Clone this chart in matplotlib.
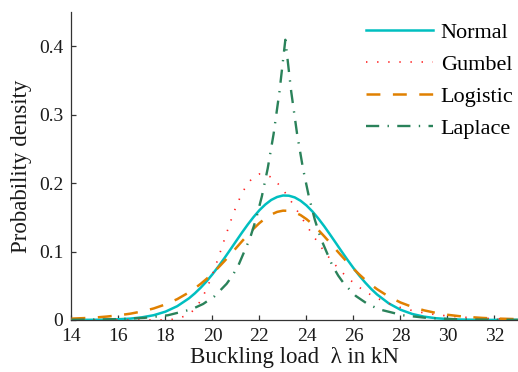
import matplotlib
matplotlib.use("Agg")
import matplotlib.pyplot as plt

plt.rcParams["font.family"] = ["Liberation Serif", "DejaVu Serif"]
plt.rcParams["lines.scale_dashes"] = False

# Load grid (kN) shared by the Normal, Gumbel and Logistic densities;
# finer steps through the central region where the curves bend most
load = [14.0, 14.5, 15.0, 15.5, 16.0, 16.5, 17.0, 17.5, 18.0, 18.5, 19.0,
        19.25, 19.5, 19.75, 20.0, 20.25, 20.5, 20.75, 21.0, 21.25, 21.5, 21.75,
        22.0, 22.25, 22.5, 22.75, 23.0, 23.25, 23.5, 23.75, 24.0, 24.25, 24.5,
        24.75, 25.0, 25.25, 25.5, 25.75, 26.0, 26.25, 26.5, 26.75,
        27.0, 27.5, 28.0, 28.5, 29.0, 29.5, 30.0, 30.5, 31.0, 31.5, 32.0, 32.5, 33.0]

normal_pdf = [0.0000, 0.0001, 0.0002, 0.0004, 0.0010, 0.0019, 0.0038, 0.0069, 0.0121, 0.0201, 0.0316,
              0.0389, 0.0472, 0.0565, 0.0669, 0.0781, 0.0900, 0.1024, 0.1150, 0.1275, 0.1395, 0.1506,
              0.1606, 0.1689, 0.1755, 0.1798, 0.1820, 0.1817, 0.1792, 0.1743, 0.1674, 0.1587, 0.1485,
              0.1372, 0.1250, 0.1125, 0.0999, 0.0876, 0.0758, 0.0647, 0.0546, 0.0454,
              0.0373, 0.0242, 0.0149, 0.0087, 0.0048, 0.0025, 0.0013, 0.0006, 0.0003, 0.0001, 0.0000, 0.0000, 0.0000]

gumbel_pdf = [0.0000, 0.0000, 0.0000, 0.0000, 0.0000, 0.0000, 0.0000, 0.0000, 0.0001, 0.0014, 0.0082,
              0.0161, 0.0283, 0.0452, 0.0664, 0.0909, 0.1168, 0.1423, 0.1656, 0.1850, 0.1997, 0.2092,
              0.2135, 0.2131, 0.2086, 0.2008, 0.1905, 0.1785, 0.1654, 0.1519, 0.1383, 0.1251, 0.1124,
              0.1005, 0.0895, 0.0794, 0.0701, 0.0618, 0.0543, 0.0476, 0.0417, 0.0364,
              0.0318, 0.0241, 0.0182, 0.0137, 0.0103, 0.0078, 0.0058, 0.0044, 0.0033, 0.0024, 0.0018, 0.0014, 0.0010]

logistic_pdf = [0.0019, 0.0026, 0.0035, 0.0049, 0.0067, 0.0091, 0.0124, 0.0168, 0.0227, 0.0304, 0.0403,
                0.0463, 0.0528, 0.0601, 0.0680, 0.0766, 0.0857, 0.0952, 0.1050, 0.1148, 0.1244, 0.1335,
                0.1417, 0.1487, 0.1542, 0.1580, 0.1598, 0.1596, 0.1574, 0.1533, 0.1474, 0.1402, 0.1317,
                0.1225, 0.1129, 0.1030, 0.0933, 0.0838, 0.0748, 0.0664, 0.0586, 0.0515,
                0.0450, 0.0341, 0.0255, 0.0190, 0.0140, 0.0103, 0.0075, 0.0055, 0.0040, 0.0029, 0.0021, 0.0016, 0.0011]

# Laplace density has a sharp cusp, so it gets its own grid centred on the peak
laplace_load = [14.0, 15.1, 16.1, 17.1, 18.1, 19.1, 19.6, 20.1, 20.6, 20.85, 21.1, 21.6, 21.85,
                22.1, 22.35, 22.6, 22.85, 23.1, 23.35, 23.6, 23.85, 24.1, 24.35, 24.6,
                25.1, 25.35, 25.6, 26.1, 26.6, 27.1, 28.1, 29.1, 30.1, 31.1, 32.1, 33.0]
laplace_pdf = [0.0002, 0.0006, 0.0013, 0.0030, 0.0068, 0.0154, 0.0233, 0.0350, 0.0528, 0.0648, 0.0796, 0.1199, 0.1471,
               0.1806, 0.2216, 0.2720, 0.3339, 0.4098, 0.3339, 0.2720, 0.2216, 0.1806, 0.1471, 0.1199,
               0.0796, 0.0648, 0.0528, 0.0350, 0.0233, 0.0154, 0.0068, 0.0030, 0.0013, 0.0006, 0.0003, 0.0001]

labels = ["Normal", "Gumbel", "Logistic", "Laplace"]
x_ticks = [14, 16, 18, 20, 22, 24, 26, 28, 30, 32]
y_ticks = [0, 0.1, 0.2, 0.3, 0.4]
y_tick_labels = ["0", "0.1", "0.2", "0.3", "0.4"]

fig = plt.figure(figsize=(5.18, 3.72), dpi=100)
ax = fig.add_axes([0.138, 0.140, 0.862, 0.827])

ax.plot(load, normal_pdf, color="#00BFC0", lw=1.8, label=labels[0], zorder=3)
ax.plot(load, gumbel_pdf, color="#FF2020", lw=1.2, dashes=(1.0, 7.0), label=labels[1], zorder=4)
ax.plot(load, logistic_pdf, color="#E08000", lw=1.8, dashes=(10.0, 9.0), label=labels[2], zorder=4)
ax.plot(laplace_load, laplace_pdf, color="#2A825A", lw=1.7,
        dashes=(9.5, 6.0, 1.0, 6.0), label=labels[3], zorder=4)

ax.set_xlim(14, 33)
ax.set_ylim(0, 0.45)
ax.set_xticks(x_ticks)
ax.set_yticks(y_ticks)
ax.set_yticklabels(y_tick_labels)

for side in ("top", "right"):
    ax.spines[side].set_visible(False)
for side in ("left", "bottom"):
    ax.spines[side].set_color("#333333")
    ax.spines[side].set_linewidth(0.9)

ax.tick_params(direction="in", length=3.5, width=0.9, color="#333333",
               labelsize=14, labelcolor="#1a1a1a")
ax.tick_params(axis="y", pad=6)
ax.tick_params(axis="x", pad=6)

ax.set_xlabel("Buckling load  λ in kN", fontsize=16.5, color="#1a1a1a", labelpad=1)
ax.set_ylabel("Probability density", fontsize=16.5, color="#1a1a1a", labelpad=5)

ax.legend(loc="upper right", bbox_to_anchor=(1.0, 0.983), frameon=False, fontsize=16,
          handlelength=3.0, handletextpad=0.36, labelspacing=0.52,
          borderpad=0.1, borderaxespad=0.1)

fig.savefig("out.png", dpi=100)
